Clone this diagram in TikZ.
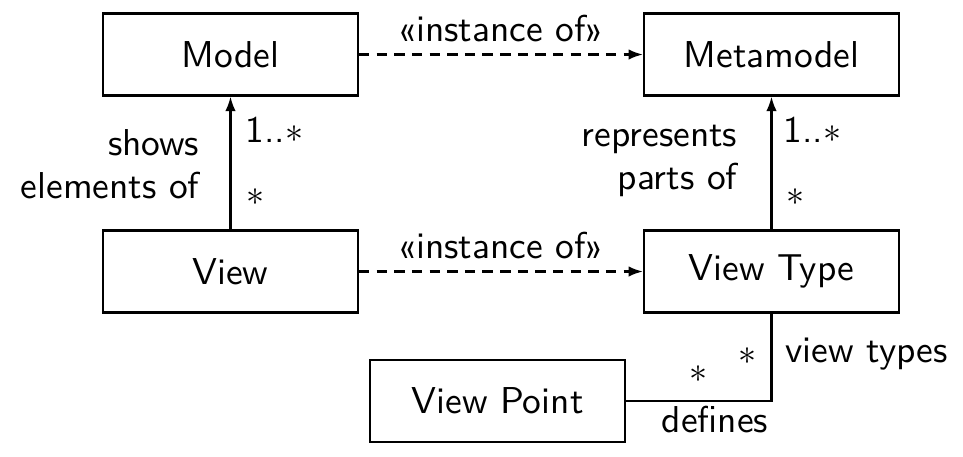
\documentclass[tikz,border=0pt]{standalone}
\usepackage{fontspec}
\usetikzlibrary{arrows.meta}
\begin{document}
\begin{tikzpicture}[x=0.27778pt,y=-0.27778pt, font=\sffamily\fontsize{10.4}{12}\selectfont,
  box/.style={draw, line width=0.6pt, minimum width=70.8pt, minimum height=22.8pt, inner sep=0pt},
  conn/.style={line width=0.6pt, -{Latex[length=4pt,width=2.9pt]}},
  dashconn/.style={conn, dash pattern=on 2.9pt off 2pt},
  lbl/.style={inner sep=0pt}]
\useasboundingbox (0,0) rectangle (963,456);
\node[box] (model) at (230.5,54.5) {Model};
\node[box] (meta) at (771.5,54.5) {Metamodel};
\node[box] (view) at (230.5,271.5) {View};
\node[box] (vtype) at (771.5,271.5) {View Type};
\node[box] (vp) at (497.5,401) {View Point};
\draw[dashconn] (model) -- node[above] (io1) {«instance of»} (meta);
\draw[dashconn] (view) -- node[above] (io2) {«instance of»} (vtype);
\draw[conn] (view) -- (model);
\draw[conn] (vtype) -- (meta);
\draw[line width=0.6pt] (vp.east) -| (vtype.south);
\node[lbl, anchor=north east, align=right] (shows) at (200,129) {shows\\elements of};
\node[lbl, anchor=north east, align=right] (repr) at (738,124) {represents\\parts of};
\node[lbl, anchor=base west] (m1) at (245,142) {1..$*$};
\node[lbl] (m2) at (255,197) {$*$};
\node[lbl, anchor=base west] (m3) at (783,142) {1..$*$};
\node[lbl] (m4) at (795,197) {$*$};
\node[lbl] (m5) at (747,356) {$*$};
\node[lbl] (m6) at (698,374) {$*$};
\node[lbl, anchor=base west] (vt) at (785,362) {view types};
\node[lbl, anchor=base] (def) at (715,432) {defines};
\end{tikzpicture}
\end{document}
